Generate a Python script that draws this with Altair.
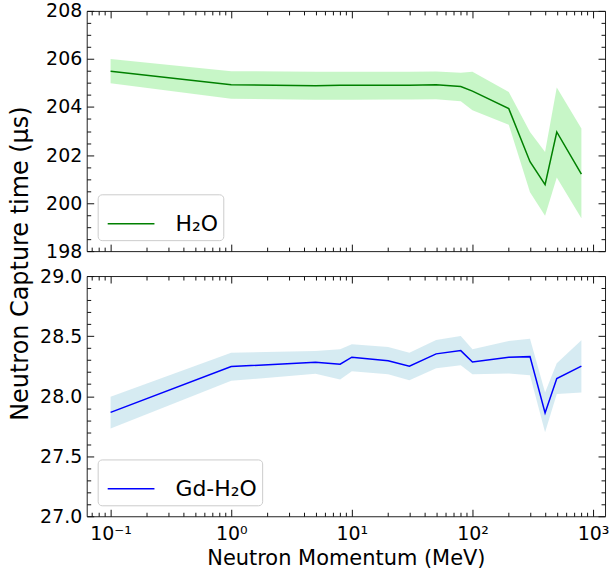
import altair as alt
import pandas as pd

# ---------------- data ----------------
momentum = [0.1, 1, 5, 8, 10, 20, 30, 50, 80, 100, 200, 300, 400, 500, 800]

h2o_time = [205.49, 204.93, 204.88, 204.90, 204.90, 204.91, 204.90, 204.93,
            204.85, 204.66, 203.93, 201.72, 200.77, 202.96, 201.21]
h2o_high = [206.00, 205.49, 205.47, 205.47, 205.47, 205.47, 205.47, 205.48,
            205.43, 205.47, 204.62, 202.96, 202.13, 204.81, 203.10]
h2o_low = [204.99, 204.34, 204.30, 204.30, 204.30, 204.31, 204.31, 204.32,
           204.24, 203.86, 203.26, 200.45, 199.47, 201.06, 199.37]

gd_time = [27.865, 28.246, 28.283, 28.266, 28.324, 28.294, 28.250, 28.352,
           28.379, 28.285, 28.324, 28.329, 27.860, 28.147, 28.250]
gd_high = [27.995, 28.362, 28.376, 28.390, 28.432, 28.410, 28.362, 28.468,
           28.500, 28.390, 28.459, 28.478, 28.030, 28.274, 28.465]
gd_low = [27.730, 28.128, 28.186, 28.138, 28.208, 28.183, 28.133, 28.233,
          28.258, 28.183, 28.188, 28.175, 27.700, 28.017, 28.031]

series_names = ["H\u2082O", "Gd-H\u2082O"]

x_domain = [0.0634, 1256]
x_major = [0.1, 1, 10, 100, 1000]
x_minor = [round(m * 10.0 ** e, 6) for e in range(-2, 3) for m in range(2, 10)]
x_minor = [v for v in x_minor if x_domain[0] <= v <= x_domain[1]]

top_domain = [198, 208]
top_major = [198, 200, 202, 204, 206, 208]
top_minor = [round(198 + 0.5 * i, 2) for i in range(21) if (0.5 * i) % 2 != 0]

bot_domain = [27.0, 29.0]
bot_major = [27.0, 27.5, 28.0, 28.5, 29.0]
bot_minor = [round(27.0 + 0.1 * i, 2) for i in range(21) if i % 5 != 0]

FONT = "DejaVu Sans"
W, H = 520, 241
MAJ, MIN = 7, 4


def x_label_expr():
    return ("datum.value < 0.5 ? '10\u207b\u00b9' : datum.value < 5 ? '10\u2070' : "
            "datum.value < 50 ? '10\u00b9' : datum.value < 500 ? '10\u00b2' : '10\u00b3'")


def tick_axis(orient, values, size, **kw):
    base = dict(orient=orient, values=values, tickSize=size, offset=-size,
                domain=False, grid=False, ticks=True, tickColor="#111",
                tickWidth=1, labels=False, title=None, zindex=2,
                labelFlush=False, labelOverlap=False)
    base.update(kw)
    return alt.Axis(**base)


def panel(times, lows, highs, name, line_color, band_color, ydom, ymaj, ymin,
          yfmt, show_x_labels, y_title):
    df = pd.DataFrame({"p": momentum, "t": times, "lo": lows, "hi": highs,
                       "series": name})
    xs = alt.Scale(type="log", domain=x_domain, nice=False)
    ys = alt.Scale(domain=ydom, nice=False, zero=False)

    label_kw = dict(labels=True, labelFont=FONT, labelFontSize=19,
                    labelColor="black")
    if show_x_labels:
        xb_major = tick_axis("bottom", x_major, MAJ, labelExpr=x_label_expr(),
                             labelPadding=8, title="Neutron Momentum (MeV)",
                             titleFont=FONT, titleFontSize=21,
                             titleFontWeight="normal", titleColor="black",
                             titlePadding=4, **label_kw)
    else:
        xb_major = tick_axis("bottom", x_major, MAJ)

    yl_kwargs = dict(format=yfmt, labelPadding=5, **label_kw)
    if y_title:
        yl_kwargs.update(title=y_title, titleFont=FONT, titleFontSize=24,
                         titleFontWeight="normal", titleColor="black",
                         titleX=-73, titleY=253, titleBaseline="middle",
                         titleAngle=270, titleAlign="center")
    yl_major = tick_axis("left", ymaj, MAJ, **yl_kwargs)

    band = alt.Chart(df).mark_area(color=band_color, opacity=0.5).encode(
        x=alt.X("p:Q", scale=xs, axis=xb_major),
        y=alt.Y("lo:Q", scale=ys, axis=yl_major),
        y2="hi:Q",
    )
    line = alt.Chart(df).mark_line(strokeWidth=1.5).encode(
        x=alt.X("p:Q", scale=xs, axis=tick_axis("bottom", x_minor, MIN)),
        y=alt.Y("t:Q", scale=ys, axis=tick_axis("left", ymin, MIN)),
        color=alt.Color(
            "series:N",
            scale=alt.Scale(domain=[name], range=[line_color]),
            legend=alt.Legend(
                orient="bottom-left", offset=11, title=None,
                symbolType="stroke", symbolSize=2200, symbolStrokeWidth=1.5,
                symbolOffset=4,
                labelFont=FONT, labelFontSize=22, labelColor="black",
                labelOffset=20, labelLimit=0, padding=5,
                strokeColor="#cccccc", fillColor="rgba(255,255,255,0.8)",
                cornerRadius=4,
            ),
        ),
    )
    ghost1 = alt.Chart(df).mark_line(opacity=0).encode(
        x=alt.X("p:Q", scale=xs, axis=tick_axis("top", x_major, MAJ)),
        y=alt.Y("t:Q", scale=ys, axis=tick_axis("right", ymaj, MAJ)),
    )
    ghost2 = alt.Chart(df).mark_line(opacity=0).encode(
        x=alt.X("p:Q", scale=xs, axis=tick_axis("top", x_minor, MIN)),
        y=alt.Y("t:Q", scale=ys, axis=tick_axis("right", ymin, MIN)),
    )
    return alt.layer(band, line, ghost1, ghost2).resolve_axis(
        x="independent", y="independent"
    ).properties(width=W, height=H)


top = panel(h2o_time, h2o_low, h2o_high, series_names[0], "green", "lightgreen",
            top_domain, top_major, top_minor, "d", False,
            "Neutron Capture time (\u03bcs)")
bottom = panel(gd_time, gd_low, gd_high, series_names[1], "blue", "lightblue",
               bot_domain, bot_major, bot_minor, ".1f", True, None)

chart = alt.vconcat(top, bottom, spacing=25, bounds="flush").resolve_scale(
    y="independent", color="independent"
).properties(
    padding={"left": 8, "top": 0, "right": 2, "bottom": 5}
).configure_view(stroke="#222", strokeWidth=1)

chart.save("out.html", embed_options={"renderer": "svg", "actions": False})
